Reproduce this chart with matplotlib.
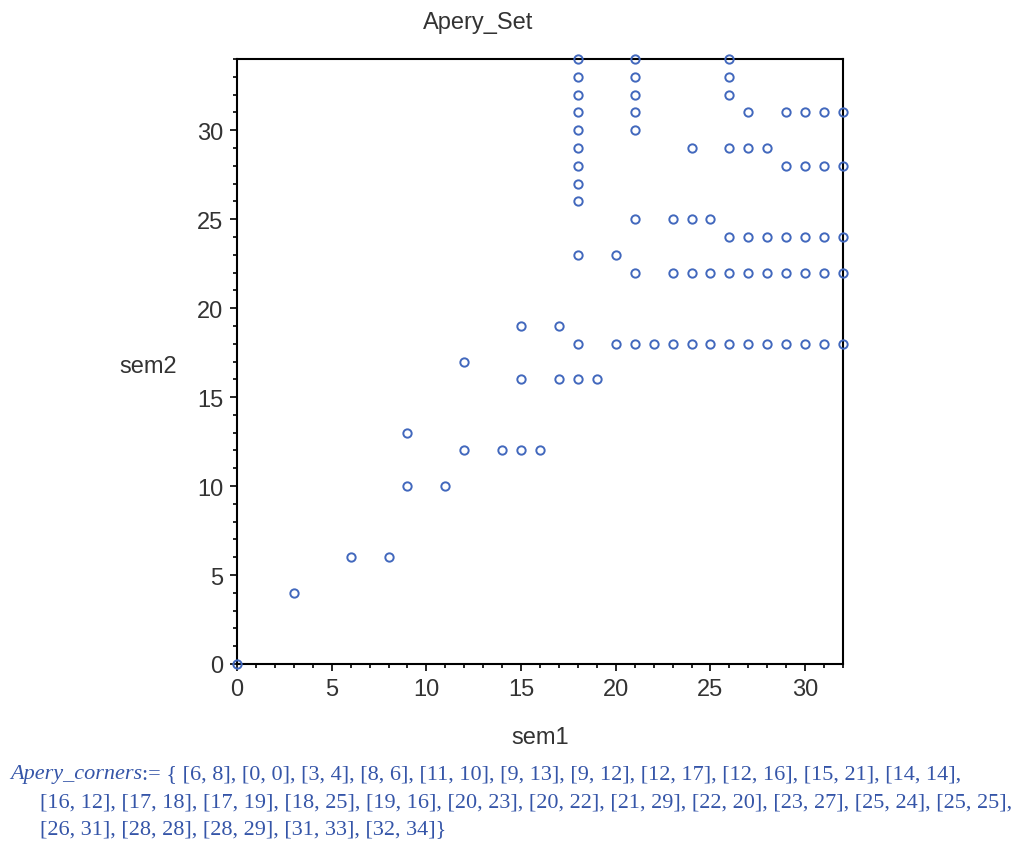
import matplotlib
matplotlib.use("Agg")
import matplotlib.pyplot as plt
from matplotlib.ticker import MultipleLocator

# Apery set points, listed row by row (sem2 value, then the sem1 values on that row)
sem1 = [0,
        3,
        6, 8,
        9, 11,
        12, 14, 15, 16,
        9,
        15, 17, 18, 19,
        12,
        18, 20, 21, 22, 23, 24, 25, 26, 27, 28, 29, 30, 31, 32,
        15, 17,
        21, 23, 24, 25, 26, 27, 28, 29, 30, 31, 32,
        18, 20,
        26, 27, 28, 29, 30, 31, 32,
        21, 23, 24, 25,
        18,
        18,
        18, 29, 30, 31, 32,
        18, 24, 26, 27, 28,
        18, 21,
        18, 21, 27, 29, 30, 31, 32,
        18, 21, 26,
        18, 21, 26,
        18, 21, 26]
sem2 = [0,
        4,
        6, 6,
        10, 10,
        12, 12, 12, 12,
        13,
        16, 16, 16, 16,
        17,
        18, 18, 18, 18, 18, 18, 18, 18, 18, 18, 18, 18, 18, 18,
        19, 19,
        22, 22, 22, 22, 22, 22, 22, 22, 22, 22, 22,
        23, 23,
        24, 24, 24, 24, 24, 24, 24,
        25, 25, 25, 25,
        26,
        27,
        28, 28, 28, 28, 28,
        29, 29, 29, 29, 29,
        30, 30,
        31, 31, 31, 31, 31, 31, 31,
        32, 32, 32,
        33, 33, 33,
        34, 34, 34]

corner_lines = [
    ":= { [6, 8], [0, 0], [3, 4], [8, 6], [11, 10], [9, 13], [9, 12], [12, 17], [12, 16], [15, 21], [14, 14],",
    "[16, 12], [17, 18], [17, 19], [18, 25], [19, 16], [20, 23], [20, 22], [21, 29], [22, 20], [23, 27], [25, 24], [25, 25],",
    "[26, 31], [28, 28], [28, 29], [31, 33], [32, 34]}",
]

W, H = 1027, 853
plt.rcParams['font.family'] = ['Liberation Sans', 'DejaVu Sans']
grey = '#333333'
fig = plt.figure(figsize=(W / 100, H / 100), dpi=100)
ax = fig.add_axes([237 / W, 1 - 665 / H, (843 - 237) / W, (665 - 60) / H])

ax.plot(sem1, sem2, linestyle='none', marker='o', markersize=6,
        markerfacecolor='none', markeredgecolor='#4268bd', markeredgewidth=1.4,
        clip_on=False, zorder=5)

ax.set_xlim(0, 32)
ax.set_ylim(0, 34)
ax.xaxis.set_major_locator(MultipleLocator(5))
ax.xaxis.set_minor_locator(MultipleLocator(1))
ax.yaxis.set_major_locator(MultipleLocator(5))
ax.yaxis.set_minor_locator(MultipleLocator(1))
ax.tick_params(which='major', direction='out', length=5, width=1.2, labelsize=17,
               labelcolor=grey)
ax.tick_params(which='minor', direction='out', length=3, width=1.2)
ax.tick_params(axis='x', pad=5)
ax.tick_params(axis='y', pad=5)
for s in ax.spines.values():
    s.set_linewidth(1.5)

fig.text(478 / W, 1 - 23 / H, "Apery_Set", ha='center', va='center', fontsize=17, color=grey)
fig.text(540 / W, 1 - 738 / H, "sem1", ha='center', va='center', fontsize=17, color=grey)
fig.text(148 / W, 1 - 367 / H, "sem2", ha='center', va='center', fontsize=17, color=grey)

# bottom output text
txt_color = '#3555a8'
serif = ['Liberation Serif', 'DejaVu Serif']
t0 = fig.text(10 / W, 1 - 775 / H, "Apery_corners", ha='left', va='center',
              fontsize=16, style='italic', family=serif, color=txt_color)
fig.canvas.draw()
bb = t0.get_window_extent(fig.canvas.get_renderer())
fig.text(bb.x1 / W, 1 - 775 / H, corner_lines[0], ha='left', va='center',
         fontsize=16, family=serif, color=txt_color)
fig.text(40 / W, 1 - 803 / H, corner_lines[1], ha='left', va='center',
         fontsize=16, family=serif, color=txt_color)
fig.text(40 / W, 1 - 830 / H, corner_lines[2], ha='left', va='center',
         fontsize=16, family=serif, color=txt_color)

fig.savefig("out.png", dpi=100)
